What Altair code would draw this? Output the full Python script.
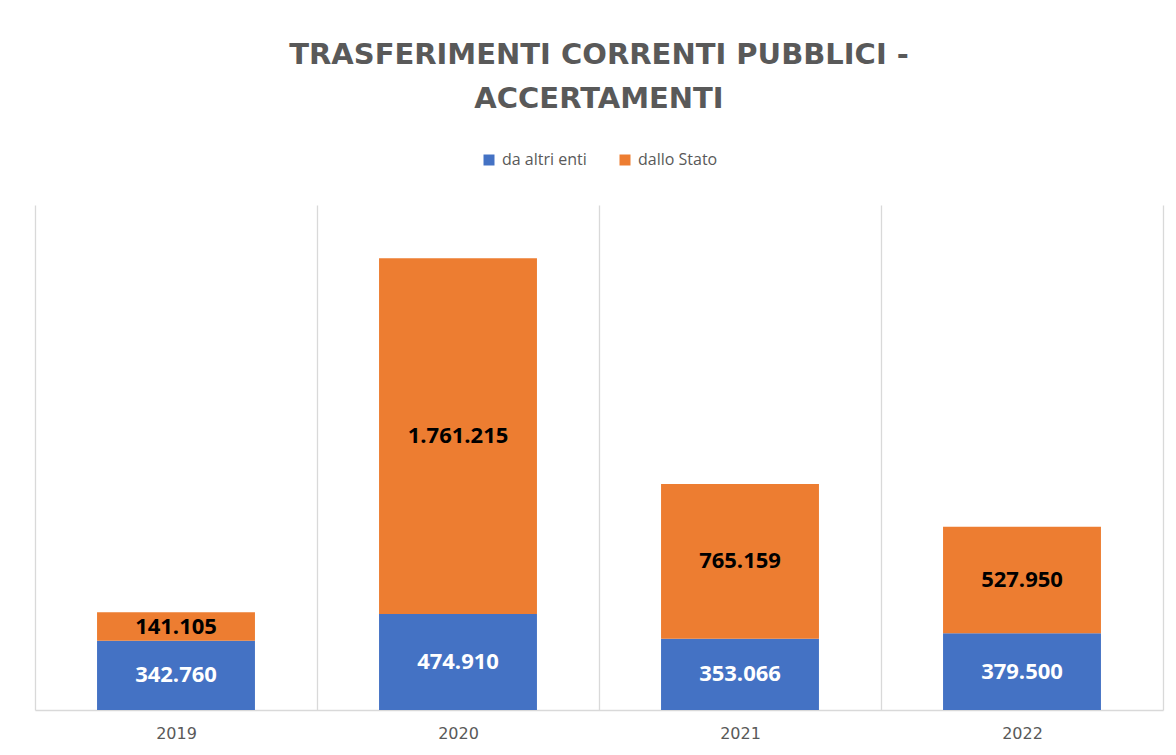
import altair as alt
import pandas as pd

years = ["2019", "2020", "2021", "2022"]
da_altri_enti = [342760, 474910, 353066, 379500]
dallo_stato = [141105, 1761215, 765159, 527950]
series = ["da altri enti", "dallo Stato"]
colors = ["#4472C4", "#ED7D31"]

rows = []
for i, yr in enumerate(years):
    rows.append({"anno": yr, "serie": series[0], "valore": da_altri_enti[i], "ordine": 0})
    rows.append({"anno": yr, "serie": series[1], "valore": dallo_stato[i], "ordine": 1})
df = pd.DataFrame(rows)

FONT = "Open Sans"
GRAY = "#595959"

base = alt.Chart(df).transform_stack(
    stack="valore", groupby=["anno"], as_=["v0", "v1"],
    sort=[alt.SortField("ordine", order="ascending")]
).transform_calculate(mid="(datum.v0 + datum.v1) / 2")

x = alt.X(
    "anno:N", title=None, sort=years,
    scale=alt.Scale(paddingInner=0, paddingOuter=0),
    axis=alt.Axis(
        grid=True, gridColor="#D9D9D9", gridWidth=1.3, tickBand="extent",
        domainColor="#D9D9D9", domainWidth=1.3, ticks=False,
        labelFont="DejaVu Sans", labelFontSize=16, labelColor=GRAY, labelPadding=15, labelAngle=0,
    ),
)
y_scale = alt.Scale(domain=[0, 2500000])

bars = base.mark_bar(width=alt.RelativeBandSize(0.56)).encode(
    x=x,
    y=alt.Y("v0:Q", scale=y_scale, axis=None),
    y2="v1:Q",
    color=alt.Color(
        "serie:N", scale=alt.Scale(domain=series, range=colors),
        legend=alt.Legend(
            title=None, orient="none", legendX=446, legendY=-53, direction="horizontal",
            symbolType="square", symbolSize=121, symbolStrokeWidth=0,
            labelFont=FONT, labelFontSize=16, labelColor=GRAY, columnPadding=30,
            padding=0, labelOffset=5,
        ),
    ),
)

labels = base.mark_text(font=FONT, fontWeight="bold", fontSize=22, baseline="middle").encode(
    x=x,
    y=alt.Y("mid:Q", scale=y_scale, axis=None),
    text=alt.Text("valore:Q", format=","),
    color=alt.condition(alt.datum.serie == series[0], alt.value("white"), alt.value("black")),
)

chart = alt.layer(bars, labels).properties(
    width=1128, height=505,
    autosize=alt.AutoSizeParams(type="none"),
    padding={"top": 197, "left": 27, "right": 5, "bottom": 37},
    title=alt.TitleParams(
        text=["TRASFERIMENTI CORRENTI PUBBLICI -", "ACCERTAMENTI"],
        font="DejaVu Sans", fontSize=29, fontWeight="bold", color=GRAY,
        anchor="middle", offset=15, lineHeight=44, baseline="alphabetic",
    ),
).configure_view(stroke=None)

chart.save("out.html", embed_options={
    "renderer": "svg", "actions": False,
    "formatLocale": {"decimal": ",", "thousands": ".", "grouping": [3], "currency": ["€", ""]},
})
